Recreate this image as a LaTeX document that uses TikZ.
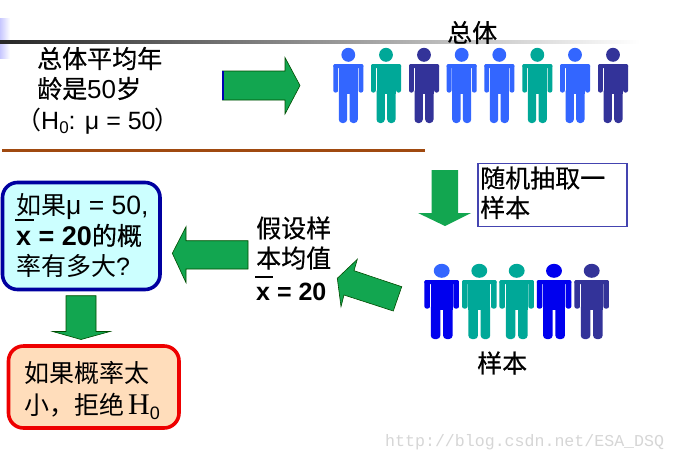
\documentclass[tikz,border=0pt]{standalone}
\usepackage{fontspec}
\setmainfont{Liberation Sans}
\newfontfamily\cjk{Noto Sans CJK SC}
\newfontfamily\cjkm[FakeBold=0.5]{Noto Sans CJK SC}
\newfontfamily\wmfont{Liberation Mono}
\newfontfamily\serifl{Liberation Serif}
\definecolor{arrowgreen}{HTML}{12A650}
\definecolor{royal}{HTML}{3366FF}
\definecolor{teal2}{HTML}{00A898}
\definecolor{navy2}{HTML}{333399}
\definecolor{pureblue}{HTML}{0000EE}
\definecolor{rulebrown}{HTML}{A04A10}
\definecolor{askfill}{HTML}{CCFFFF}
\definecolor{askline}{HTML}{0000A0}
\definecolor{endfill}{HTML}{FFDDBB}
\definecolor{endline}{HTML}{EE0000}
\definecolor{topline}{HTML}{4444B0}
\tikzset{
  txt/.style={anchor=base west,inner sep=0pt,font=\fontsize{25}{25}\selectfont\cjk,text=black},
  txtm/.style={txt,font=\fontsize{25}{25}\selectfont\cjkm},
  bigarrow/.style={fill=arrowgreen,draw=black!70!green,line width=0.6pt,line join=miter},
  topbox/.style={draw=topline,line width=1.3pt,fill=white},
  askbox/.style={draw=askline,line width=3.6pt,fill=askfill,rounded corners=15pt},
  endbox/.style={draw=endline,line width=3.6pt,fill=endfill,rounded corners=15pt},
  ovl/.style={line width=1.1pt,draw=black}
}
\newcommand{\person}[5]{% head colour, body colour, x, shoulder y, x scale
  \begin{scope}[shift={(#3,#4)},xscale=#5]
    \fill[#1] (0,-9.2) ellipse [x radius=6.9,y radius=7];
    \fill[#2,rounded corners=2pt] (-15,0) rectangle (-10.2,28.5);
    \fill[#2,rounded corners=2pt] (10.2,0) rectangle (15,28.5);
    \fill[#2,rounded corners=1.5pt] (-15,0) rectangle (15,4);
    \fill[#2] (-9.5,1) rectangle (9.5,30);
    \fill[#2,rounded corners=3.5pt] (-9.5,24) rectangle (-1.2,59);
    \fill[#2,rounded corners=3.5pt] (1.2,24) rectangle (9.5,59);
  \end{scope}}
\begin{document}
\begin{tikzpicture}[x=1pt,y=-1pt]
\useasboundingbox (0,0) rectangle (676,461);
\fill[white] (0,0) rectangle (676,461);
% header decoration
\shade[left color=blue!22!white,right color=white] (0,18) rectangle (10,58);
\shade[left color=black!85,middle color=black!35,right color=white] (0,40) rectangle (640,43.5);
\draw[rulebrown,line width=2.4pt] (2,150.5) -- (425,150.5);
% top-left text
\node[txtm] (t1) at (37,68) {总体平均年};
\node[txtm] (t2) at (37,98) {龄是{\rmfamily\fontsize{26}{26}\selectfont 50}岁};
\node[txt,font=\fontsize{25}{25}\selectfont] (t3) at (25,129) {\hspace{-9pt}{\cjk（}H\raisebox{-4pt}{\fontsize{17}{17}\selectfont 0}: μ = 50\hspace{-1pt}{\cjk ）}};
\node[txtm] (pop) at (447,42) {总体};
% arrows
\draw[bigarrow] (222.5,71) -- (285,71) -- (285,57.5) -- (300,85.5) -- (285,114) -- (285,100) -- (222.5,100) -- cycle;
\fill[blue!70!black] (222,71) rectangle (224,100);
\fill[bigarrow,draw=none] (431.7,170) -- (458,170) -- (458,213) -- (471,213) -- (445,226) -- (418,213) -- (431.7,213) -- cycle;
\draw[bigarrow] (337.3,278.3) -- (357.3,259.3) -- (354,270.7) -- (401.7,286.7) -- (393.3,311) -- (344,295) -- (341,306.7) -- cycle;
\draw[bigarrow] (172.3,253.3) -- (186,226.7) -- (186,240.7) -- (248,240.7) -- (248,269) -- (186,269) -- (186,282.7) -- cycle;
\draw[bigarrow] (66,295.7) -- (96,295.7) -- (96,331.5) -- (110,331.5) -- (81,339.5) -- (52.7,331.5) -- (66,331.5) -- cycle;
% population
\person{royal}{royal}{348.3}{64}{1}
\person{teal2}{teal2}{386}{64}{1}
\person{navy2}{navy2}{424}{64}{1}
\person{royal}{royal}{461.7}{64}{1}
\person{royal}{royal}{499.3}{64}{1}
\person{teal2}{teal2}{537.3}{64}{1}
\person{royal}{royal}{575}{64}{1}
\person{navy2}{navy2}{613}{64}{1}
% sample
\person{royal}{pureblue}{441.7}{280}{1.15}
\person{teal2}{teal2}{479.3}{280}{1.15}
\person{teal2}{teal2}{516.7}{280}{1.15}
\person{pureblue}{pureblue}{554}{280}{1.15}
\person{navy2}{navy2}{591.7}{280}{1.15}
% random sample box
\path[topbox] (478,163.5) rectangle (627,226.5);
\node[txtm] (r1) at (480,187.5) {随机抽取一};
\node[txtm] (r2) at (480,217) {样本};
\node[txtm] (smp) at (477,372.5) {样本};
% assumed mean
\node[txtm] (a1) at (256,237.5) {假设样};
\node[txtm] (a2) at (256,267.5) {本均值};
\node[txt,font=\fontsize{25}{25}\selectfont\bfseries] (a3) at (256,300) {x = 20};
\draw[ovl] (255,277) -- (273,277);
% question box
\path[askbox] (2.5,182.5) rectangle (160,289.5);
\node[txt] (q1) at (16,214.5) {如果{\rmfamily\fontsize{26.5}{26.5}\selectfont μ = 50,}};
\node[txtm] (q2) at (16,245) {{\rmfamily\bfseries\fontsize{27}{27}\selectfont x = 20}的概};
\node[txt] (q3) at (16,275.5) {率有多大{\rmfamily ?}};
\draw[ovl] (15,220) -- (34,220);
% conclusion box
\path[endbox] (8.5,346) rectangle (179,428);
\node[txt] (c1) at (24,382.5) {如果概率太};
\node[txt] (c2) at (24,414.5) {小，拒绝\hspace{4pt}{\serifl\fontsize{30}{30}\selectfont H}{\rmfamily\fontsize{18}{18}\selectfont\raisebox{-5pt}{0}}};
% watermark
\node[anchor=base west,inner sep=0pt,font=\fontsize{16.6}{16.6}\selectfont\wmfont,text=black!16] (wm) at (385,446) {http://blog.csdn.net/ESA\_DSQ};
\end{tikzpicture}
\end{document}
